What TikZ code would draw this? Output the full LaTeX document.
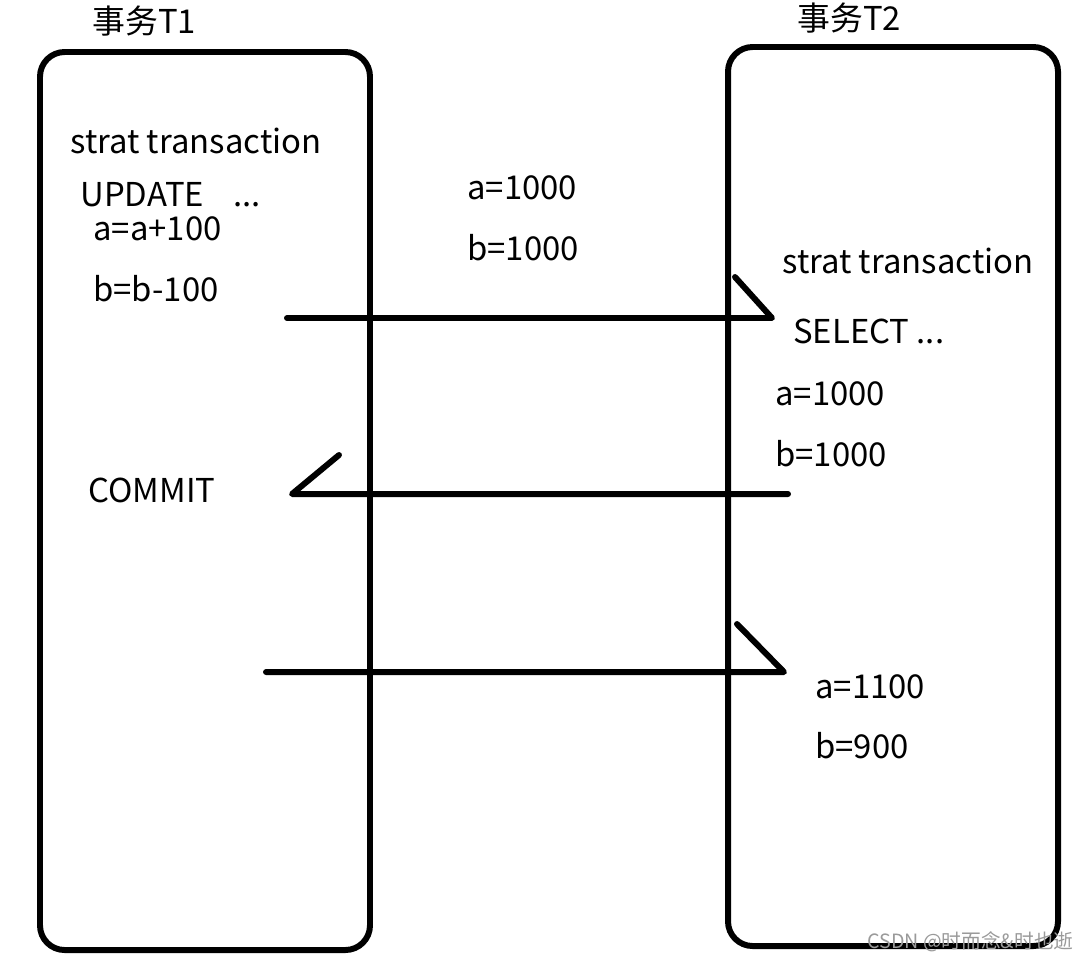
\documentclass[tikz,border=0pt]{standalone}
\usepackage{fontspec}
\usepackage{xcolor}
\usetikzlibrary{positioning,calc}
\newfontfamily\cjk{Noto Sans CJK SC}
\definecolor{ink}{HTML}{000000}
\definecolor{mark}{HTML}{9a9a9a}

\begin{document}
\begin{tikzpicture}[x=0.02cm,y=-0.02cm,font=\cjk\fontsize{18.7}{22}\selectfont,
  txn/.style={draw=ink,line width=3.4pt,rounded corners=14pt},
  lbl/.style={anchor=west,inner sep=0pt,text=ink},
  msg/.style={draw=ink,line width=3.4pt,line cap=round,line join=round}]
  \useasboundingbox (0,0) rectangle (1087,961);
  % the two transactions
  \draw[txn] (40,52) rectangle (370,950);
  \draw[txn] (728,47) rectangle (1058,946);
  \node[lbl] (t1) at (92,21) {事务T1};
  \node[lbl] (t2) at (797,18) {事务T2};
  % T1 side
  \node[lbl] (s1) at (70,141) {strat transaction};
  \node[lbl] (upd) at (80,195) {UPDATE\hspace{0.9em}...};
  \node[lbl] (a1) at (93,229) {a=a+100};
  \node[lbl] (b1) at (93,289) {b=b-100};
  \node[lbl] (cm) at (88,490) {COMMIT};
  % values before
  \node[lbl] (a0) at (467,188) {a=1000};
  \node[lbl] (b0) at (467,248) {b=1000};
  % T2 side
  \node[lbl] (s2) at (782,261) {strat transaction};
  \node[lbl] (sel) at (793,331) {SELECT ...};
  \node[lbl] (a2) at (775,394) {a=1000};
  \node[lbl] (b2) at (775,454) {b=1000};
  \node[lbl] (a3) at (815,687) {a=1100};
  \node[lbl] (b3) at (815,746) {b=900};
  % messages
  \coordinate (m1s) at (287,318);
  \coordinate (m1e) at (772,318);
  \coordinate (m1h) at (735,277);
  \coordinate (m2s) at (788,494);
  \coordinate (m2e) at (292,494);
  \coordinate (m2h) at (339,455);
  \coordinate (m3s) at (266,672);
  \coordinate (m3e) at (784,672);
  \coordinate (m3h) at (737,624);
  \foreach \s/\e/\h in {m1s/m1e/m1h,m2s/m2e/m2h,m3s/m3e/m3h}
    \draw[msg] (\s) -- (\e) -- (\h);
  \node[lbl,text=mark,font=\cjk\fontsize{11.2}{13}\selectfont] (wm) at (867,942) {CSDN @时而念\&时也逝};
\end{tikzpicture}
\end{document}
